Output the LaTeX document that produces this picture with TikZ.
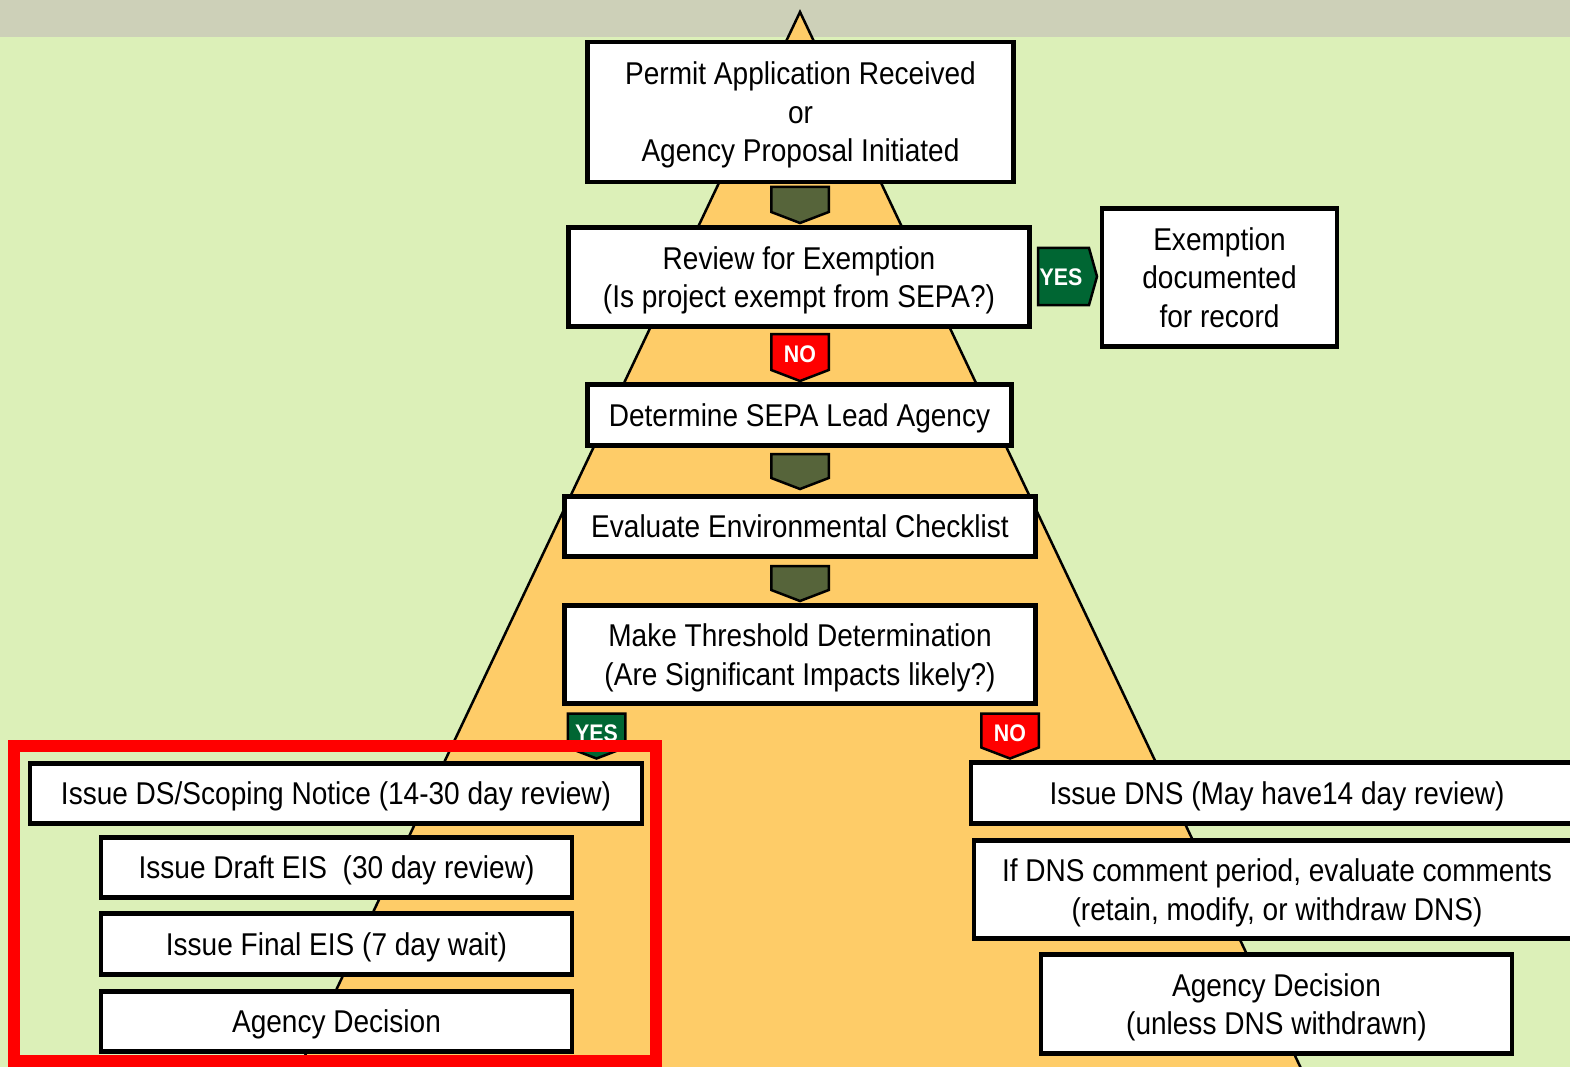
\documentclass[tikz,border=0pt]{standalone}
\usepackage{fontspec}
\setmainfont{Liberation Sans}[FakeStretch=0.89]
\usetikzlibrary{calc}

\definecolor{band}{RGB}{205,208,184}
\definecolor{meadow}{RGB}{220,240,184}
\definecolor{sand}{RGB}{254,204,104}
\definecolor{olive}{RGB}{86,100,58}
\definecolor{gogreen}{RGB}{0,102,51}
\definecolor{stopred}{RGB}{255,0,0}

% downward chevron: name, centre x, top y, height, fill, label
\newcommand\chevdown[6]{%
  \filldraw[chev, fill=#5] (#2-28.75,#3) -- (#2+28.75,#3) -- (#2+28.75,#3+#4-11)
     -- (#2,#3+#4) -- (#2-28.75,#3+#4-11) -- cycle;
  \node[chevtext] (#1) at (#2,#3+#4/2-3) {#6};}

\begin{document}
\begin{tikzpicture}[x=1pt,y=-1pt,
  box/.style={draw=black, line width=4.5pt, fill=white, align=center, inner sep=0pt,
    text depth=-3pt, font=\fontsize{31.5}{38.5}\selectfont},
  chev/.style={draw=black, line width=2.5pt, line join=miter},
  chevtext/.style={text=white, inner sep=0pt, font=\fontsize{24}{24}\bfseries\selectfont}]

\useasboundingbox (0,0) rectangle (1570,1067);
\begin{scope}
\clip (0,0) rectangle (1570,1067);

% background and pyramid
\fill[meadow] (0,0) rectangle (1570,1067);
\fill[band] (0,0) rectangle (1570,37);
\filldraw[fill=sand, draw=black, line width=2.5pt, line join=miter]
  (800,12) -- (1316,1100) -- (284,1100) -- cycle;

% main column
\node[box, minimum width=426, minimum height=140] (permit) at (800.5,112)
  {Permit Application Received\\or\\Agency Proposal Initiated};
\node[box, minimum width=461, minimum height=99] (review) at (799,277)
  {Review for Exemption\\(Is project exempt from SEPA?)};
\node[box, minimum width=235, minimum height=138] (exempt) at (1219.5,277.5)
  {Exemption\\documented\\for record};
\node[box, minimum width=424, minimum height=61] (lead) at (799.5,415)
  {Determine SEPA Lead Agency};
\node[box, minimum width=471, minimum height=60] (checklist) at (800,526.5)
  {Evaluate Environmental Checklist};
\node[box, minimum width=471, minimum height=98] (threshold) at (800,654.5)
  {Make Threshold Determination\\(Are Significant Impacts likely?)};

% DS / EIS branch
\node[box, minimum width=612, minimum height=60] (ds) at (336,793.5)
  {Issue DS/Scoping Notice (14-30 day review)};
\node[box, minimum width=471, minimum height=60] (deis) at (336.5,867.5)
  {Issue Draft EIS\ \ (30 day review)};
\node[box, minimum width=471, minimum height=61] (feis) at (336.5,944)
  {Issue Final EIS (7 day wait)};
\node[box, minimum width=471, minimum height=60] (decl) at (336.5,1021.5)
  {Agency Decision};

% DNS branch
\node[box, minimum width=612, minimum height=61] (dns) at (1277,793)
  {Issue DNS (May have14 day review)};
\node[box, minimum width=606, minimum height=98] (comments) at (1277,889.5)
  {If DNS comment period, evaluate comments\\(retain, modify, or withdraw DNS)};
\node[box, minimum width=471, minimum height=99] (decr) at (1276.5,1004)
  {Agency Decision\\(unless DNS withdrawn)};

% chevron connectors
\chevdown{stepa}{800}{187}{36}{olive}{}
\chevdown{nolead}{800}{334}{47}{stopred}{NO}
\chevdown{stepb}{800}{454}{35}{olive}{}
\chevdown{stepc}{800}{566}{35}{olive}{}
\chevdown{yesds}{596.5}{713.5}{45}{gogreen}{YES}
\chevdown{nodns}{1010}{713.5}{45}{stopred}{NO}
\filldraw[chev, fill=gogreen] (1038,248) -- (1089,248) -- (1097,276.5)
  -- (1089,305) -- (1038,305) -- cycle;
\node[chevtext] (yesexempt) at (1061,277) {YES};

% frame around the EIS track
\node[draw=stopred, line width=12pt, inner sep=0pt,
  minimum width=642, minimum height=315] (eisframe) at (335,903.5) {};
\end{scope}
\end{tikzpicture}
\end{document}
